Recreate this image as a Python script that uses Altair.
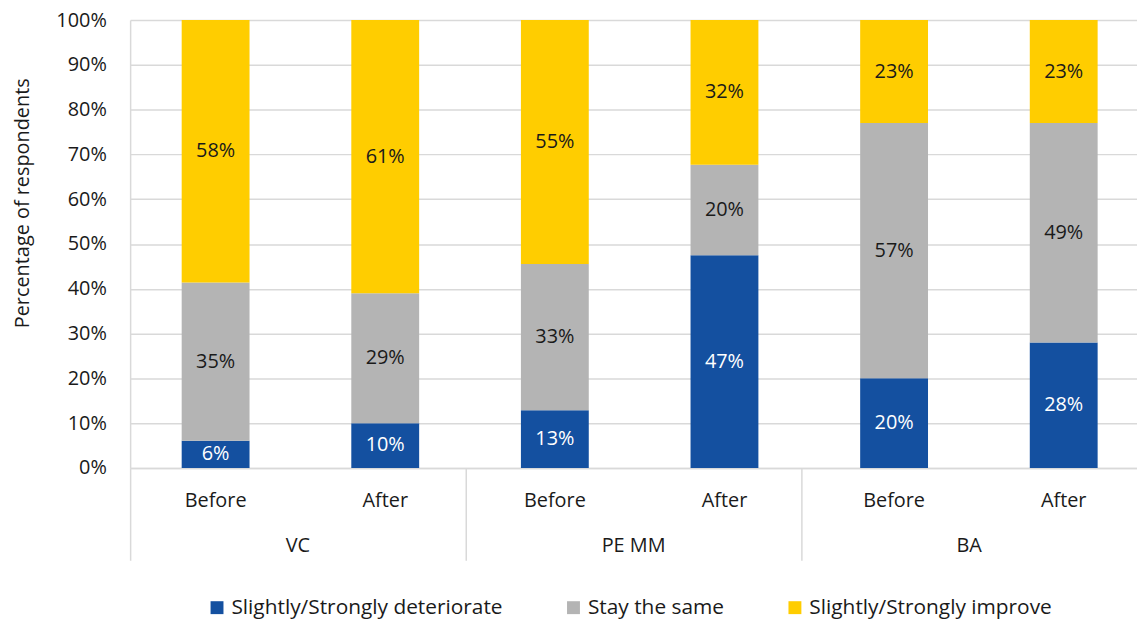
import altair as alt
import pandas as pd

groups = ["VC", "VC", "PE MM", "PE MM", "BA", "BA"]
periods = ["Before", "After", "Before", "After", "Before", "After"]
group_names = ["VC", "PE MM", "BA"]
categories = ["Slightly/Strongly deteriorate", "Stay the same", "Slightly/Strongly improve"]
deteriorate = [6, 10, 13, 47, 20, 28]
same = [35, 29, 33, 20, 57, 49]
improve = [58, 61, 55, 32, 23, 23]
colors = ["#1450a0", "#b4b4b4", "#ffcd00"]
y_ticks = [0, 0.1, 0.2, 0.3, 0.4, 0.5, 0.6, 0.7, 0.8, 0.9, 1.0]

FONT = "Open Sans"
TXT = "#1a1a1a"
GRID = "#d9d9d9"

rows = []
for i in range(len(groups)):
    key = f"{groups[i]}|{periods[i]}"
    for j, vals in enumerate([deteriorate, same, improve]):
        rows.append({
            "key": key, "group": groups[i], "period": periods[i],
            "category": categories[j], "order": j,
            "value": vals[i], "label": f"{vals[i]}%",
        })
df = pd.DataFrame(rows)
keys = [f"{g}|{p}" for g, p in zip(groups, periods)]

x_scale = alt.Scale(paddingInner=0.6, paddingOuter=0.268, align=0.567)

x_enc = alt.X(
    "key:N", sort=keys, scale=x_scale,
    axis=alt.Axis(
        orient="bottom", title=None,
        labelExpr="split(datum.value, '|')[1]", labelAngle=0,
        ticks=False, tickSize=0, labelPadding=23, labelFontSize=20,
        labelFont=FONT, labelColor=TXT, domainColor=GRID, domainWidth=1.5,
    ),
)

y_enc = alt.Y(
    "value:Q", stack="normalize", scale=alt.Scale(domain=[0, 1]),
    axis=alt.Axis(
        format=".0%", values=y_ticks, title="Percentage of respondents",
        labelFontSize=20, labelFont=FONT, labelColor=TXT, labelPadding=24,
        ticks=False, domainColor=GRID, domainWidth=1.5,
        gridColor=GRID, gridWidth=1.5,
        titleFontSize=20, titleFont=FONT, titleFontWeight="normal",
        titleColor=TXT, titlePadding=24, titleY=184,
    ),
)

bars = alt.Chart(df).mark_bar().encode(
    x=x_enc,
    y=y_enc,
    color=alt.Color(
        "category:N", sort=categories,
        scale=alt.Scale(domain=categories, range=colors),
        legend=alt.Legend(
            title=None, orient="none", direction="horizontal",
            legendX=77, legendY=581, symbolType="square", symbolSize=169,
            symbolStrokeWidth=0, labelFontSize=21, labelFont=FONT,
            labelColor=TXT, columnPadding=60, padding=0, labelLimit=400,
        ),
    ),
    order=alt.Order("order:Q"),
)

text = alt.Chart(df).mark_text(fontSize=20, font=FONT).encode(
    x=x_enc,
    y=alt.Y("value:Q", stack="normalize", bandPosition=0.5),
    text=alt.Text("label:N"),
    order=alt.Order("order:Q"),
    color=alt.condition(alt.datum.order == 0, alt.value("white"), alt.value(TXT)),
)

gdf = pd.DataFrame({"group": group_names})
sep = alt.Chart(gdf).mark_bar(opacity=0).encode(
    x=alt.X(
        "group:N", sort=group_names,
        scale=alt.Scale(paddingInner=0, paddingOuter=alt.ExprRef(expr="-0.0175"), align=0),
        axis=alt.Axis(
            orient="bottom", bandPosition=0, tickSize=93, tickColor=GRID,
            tickWidth=1.5, domain=False, grid=False, labelPadding=-25,
            labelAngle=0, title=None, labelFontSize=20, labelFont=FONT,
            labelColor=TXT,
        ),
    ),
)

chart = alt.layer(alt.layer(bars, text), sep).resolve_scale(x="independent").properties(
    width=1014, height=451,
    autosize=alt.AutoSizeParams(type="none"),
    padding={"left": 123, "top": 10, "right": 0, "bottom": 151},
).configure_view(stroke=None)

chart.save("out.html", embed_options={"renderer": "svg", "actions": False})
